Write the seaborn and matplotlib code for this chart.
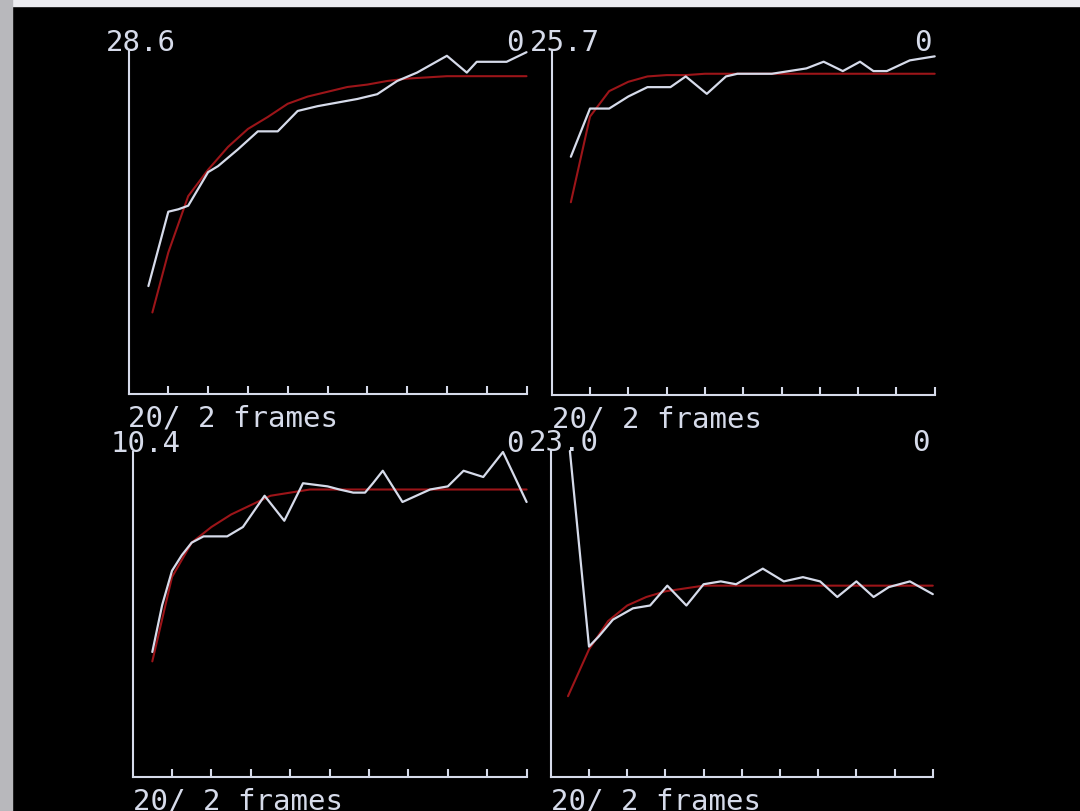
import pandas as pd
import seaborn as sns
import matplotlib.pyplot as plt
from matplotlib.patches import Rectangle

# value printed at the top left of each panel (= top of the y axis)
tops = [28.6, 25.7, 10.4, 23.0]
top_labels = ["28.6", "25.7", "10.4", "23.0"]
right_label = "0"
x_label = "20/ 2 frames"
x_ticks = [2, 4, 6, 8, 10, 12, 14, 16, 18, 20]

# panel 1 (top left): measured curve and fitted curve
p1_x = [1.0, 2.0, 2.5, 3.0, 4.0, 4.5, 5.5, 6.5, 7.5, 8.5, 9.5, 10.5, 11.5, 12.5,
        13.5, 14.5, 16.0, 17.0, 17.5, 19.0, 20.0]
p1_y = [9.0, 15.2, 15.4, 15.7, 18.5, 19.0, 20.4, 21.9, 21.9, 23.6, 24.0, 24.3,
        24.6, 25.0, 26.1, 26.8, 28.2, 26.8, 27.7, 27.7, 28.5]
p1_fit_x = [1.2, 2, 3, 4, 5, 6, 7, 8, 9, 10, 11, 12, 13, 14, 15, 16, 17, 18, 19, 20]
p1_fit_y = [6.8, 11.8, 16.5, 18.7, 20.6, 22.1, 23.1, 24.2, 24.8, 25.2, 25.6, 25.8,
            26.1, 26.3, 26.4, 26.5, 26.5, 26.5, 26.5, 26.5]

# panel 2 (top right)
p2_x = [1.0, 2.0, 3.0, 4.0, 5.0, 6.2, 7.0, 8.1, 9.1, 9.7, 11.5, 13.3, 14.2, 15.2,
        16.1, 16.8, 17.5, 18.7, 20.0]
p2_y = [17.8, 21.4, 21.4, 22.3, 23.0, 23.0, 23.8, 22.5, 23.8, 24.0, 24.0, 24.4,
        24.9, 24.2, 24.9, 24.2, 24.2, 25.0, 25.3]
p2_fit_x = [1, 2, 3, 4, 5, 6, 7, 8, 10, 12, 14, 16, 18, 20]
p2_fit_y = [14.4, 20.8, 22.7, 23.4, 23.8, 23.9, 23.9, 24.0, 24.0, 24.0, 24.0,
            24.0, 24.0, 24.0]

# panel 3 (bottom left)
p3_x = [1.0, 1.5, 2.0, 2.5, 3.0, 3.6, 4.8, 5.6, 6.7, 7.7, 8.65, 9.9, 10.5, 11.2,
        11.8, 12.2, 12.7, 13.2, 13.7, 14.4, 15.1, 16.0, 16.8, 17.8, 18.8, 19.7, 20.0]
p3_y = [4.0, 5.5, 6.6, 7.1, 7.5, 7.7, 7.7, 8.0, 9.0, 8.2, 9.4, 9.3, 9.2, 9.1,
        9.1, 9.4, 9.8, 9.3, 8.8, 9.0, 9.2, 9.3, 9.8, 9.6, 10.4, 9.2, 8.8]
p3_fit_x = [1, 2, 3, 4, 5, 6, 7, 8, 9, 12, 15, 18, 20]
p3_fit_y = [3.7, 6.4, 7.5, 8.0, 8.4, 8.7, 9.0, 9.1, 9.2, 9.2, 9.2, 9.2, 9.2]

# panel 4 (bottom right)
p4_x = [1.0, 2.0, 2.5, 3.25, 4.3, 5.2, 6.1, 7.1, 8.0, 8.9, 9.7, 11.1, 12.2, 13.2,
        14.1, 15.0, 16.0, 16.9, 17.7, 18.8, 20.0]
p4_y = [23.0, 9.2, 9.9, 11.1, 11.9, 12.1, 13.5, 12.1, 13.6, 13.8, 13.6, 14.7,
        13.8, 14.1, 13.8, 12.7, 13.8, 12.7, 13.4, 13.8, 12.9]
p4_fit_x = [0.9, 2, 3, 4, 5, 6, 7, 8, 10, 12, 14, 16, 18, 20]
p4_fit_y = [5.7, 9.0, 11.0, 12.1, 12.7, 13.1, 13.3, 13.5, 13.5, 13.5, 13.5,
            13.5, 13.5, 13.5]

panels = [(p1_x, p1_y, p1_fit_x, p1_fit_y),
          (p2_x, p2_y, p2_fit_x, p2_fit_y),
          (p3_x, p3_y, p3_fit_x, p3_fit_y),
          (p4_x, p4_y, p4_fit_x, p4_fit_y)]

# axes boxes in pixels: left, top, width, height
W, H = 1080, 812
boxes = [(128.5, 52, 398, 343),
         (551.7, 52, 383, 344),
         (132.6, 453, 394, 325),
         (550.8, 452, 382, 326)]

fg = "#d6dbea"
red = "#9c1519"

sns.set_style("dark", {"axes.facecolor": "black", "figure.facecolor": "black"})
plt.rcParams["font.family"] = ["DejaVu Sans Mono"]

fig = plt.figure(figsize=(W / 100, H / 100), dpi=100)

# bright border of the screen photo (top and left edges)
fig.patches.append(Rectangle((0, 1 - 7 / H), 1, 7 / H, transform=fig.transFigure,
                             color="#ececf0", zorder=0))
fig.patches.append(Rectangle((0, 0), 12 / W, 1, transform=fig.transFigure,
                             color="#b8b8bc", zorder=0))

for i, (box, (mx, my, fx, fy)) in enumerate(zip(boxes, panels)):
    left, top, w, h = box
    ax = fig.add_axes([left / W, 1 - (top + h) / H, w / W, h / H])
    ax.set_facecolor("black")

    df = pd.DataFrame({"frame": mx, "value": my})
    fit = pd.DataFrame({"frame": fx, "value": fy})
    sns.lineplot(data=fit, x="frame", y="value", color=red, linewidth=1.5,
                 ax=ax, sort=False)
    sns.lineplot(data=df, x="frame", y="value", color=fg, linewidth=1.6,
                 ax=ax, sort=False)
    for ln in ax.lines:
        ln.set_clip_on(False)

    ax.set_xlim(0, 20)
    ax.set_ylim(0, tops[i])
    ax.set_xlabel("")
    ax.set_ylabel("")
    ax.grid(False)
    for side in ["top", "right"]:
        ax.spines[side].set_visible(False)
    for side in ["left", "bottom"]:
        ax.spines[side].set_visible(True)
        ax.spines[side].set_color(fg)
        ax.spines[side].set_linewidth(1.5)
    ax.set_xticks(x_ticks)
    ax.set_xticklabels([])
    ax.set_yticks([])
    ax.tick_params(axis="x", direction="in", length=6, width=1.5, color=fg,
                   bottom=True)

    txt = dict(color=fg, fontsize=21, xycoords="axes fraction",
               textcoords="offset points", annotation_clip=False)
    ax.annotate(top_labels[i], xy=(0, 1), xytext=(-16, 1), ha="left",
                va="baseline", **txt)
    ax.annotate(right_label, xy=(1, 1), xytext=(-2, 1), ha="right",
                va="baseline", **txt)
    ax.annotate(x_label, xy=(0, 0), xytext=(0, -7), ha="left", va="top", **txt)

fig.savefig("out.png", dpi=100, facecolor="black")
